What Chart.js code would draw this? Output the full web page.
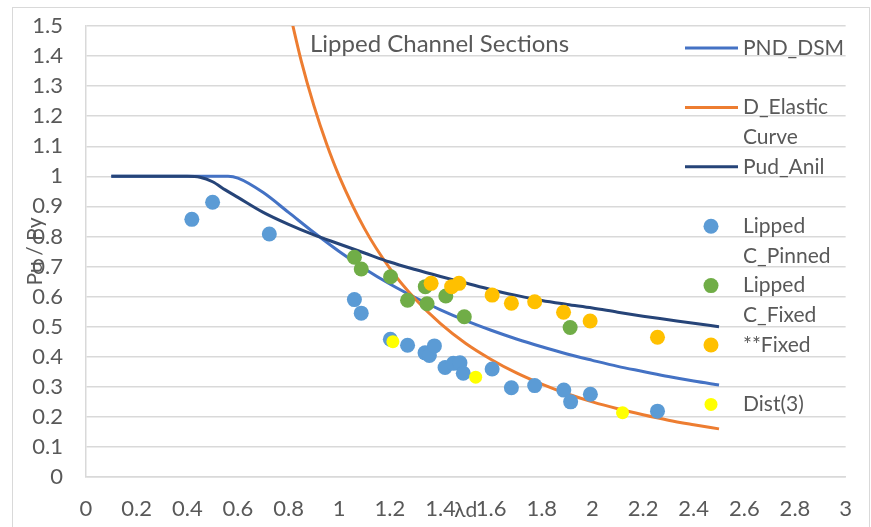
<!DOCTYPE html>
<html>
<head>
<meta charset="utf-8">
<script src="https://cdn.jsdelivr.net/npm/chart.js@4"></script>
<style>
  html, body { margin: 0; padding: 0; background: #fff; }
</style>
</head>
<body>
<canvas id="chart" width="871" height="527"></canvas>
<script>
// axis ticks
const xTicks = [0, 0.2, 0.4, 0.6, 0.8, 1, 1.2, 1.4, 1.6, 1.8, 2, 2.2, 2.4, 2.6, 2.8, 3];
const yTicks = [0, 0.1, 0.2, 0.3, 0.4, 0.5, 0.6, 0.7, 0.8, 0.9, 1, 1.1, 1.2, 1.3, 1.4, 1.5];

// curves
const pndX = [0.1, 0.2, 0.3, 0.4, 0.5, 0.561, 0.6, 0.7, 0.8, 0.9, 1.0, 1.1, 1.2, 1.3, 1.4, 1.5, 1.6, 1.7, 1.8, 1.9, 2.0, 2.1, 2.2, 2.3, 2.4, 2.5];
const pndY = [1, 1, 1, 1, 1, 1, 0.994, 0.946, 0.880, 0.813, 0.750, 0.693, 0.642, 0.597, 0.556, 0.520, 0.488, 0.459, 0.433, 0.409, 0.388, 0.368, 0.351, 0.334, 0.319, 0.306];

const elasticX = [0.8, 0.85, 0.9, 0.95, 1.0, 1.1, 1.2, 1.3, 1.4, 1.5, 1.6, 1.7, 1.8, 1.9, 2.0, 2.1, 2.2, 2.3, 2.4, 2.5];
const elasticY = [1.5625, 1.384, 1.235, 1.108, 1.0, 0.826, 0.694, 0.592, 0.510, 0.444, 0.391, 0.346, 0.309, 0.277, 0.250, 0.227, 0.207, 0.189, 0.174, 0.160];

const anilX = [0.1, 0.2, 0.3, 0.4, 0.45, 0.5, 0.55, 0.6, 0.7, 0.8, 0.9, 1.0, 1.1, 1.2, 1.3, 1.4, 1.5, 1.6, 1.7, 1.8, 1.9, 2.0, 2.1, 2.2, 2.3, 2.4, 2.5];
const anilY = [1, 1, 1, 1, 0.997, 0.982, 0.955, 0.93, 0.88, 0.84, 0.805, 0.775, 0.745, 0.715, 0.69, 0.667, 0.645, 0.623, 0.604, 0.587, 0.574, 0.562, 0.548, 0.535, 0.523, 0.511, 0.5];

// test points
const pinnedX = [0.418, 0.500, 0.724, 1.060, 1.087, 1.202, 1.270, 1.339, 1.356, 1.376, 1.418, 1.451, 1.477, 1.490, 1.604, 1.680, 1.772, 1.887, 1.914, 1.992, 2.257];
const pinnedY = [0.857, 0.914, 0.808, 0.590, 0.545, 0.458, 0.438, 0.413, 0.404, 0.436, 0.364, 0.378, 0.380, 0.345, 0.359, 0.297, 0.304, 0.289, 0.250, 0.275, 0.219];

const fixedX = [1.060, 1.087, 1.203, 1.270, 1.340, 1.347, 1.421, 1.494, 1.912];
const fixedY = [0.731, 0.692, 0.666, 0.588, 0.633, 0.576, 0.602, 0.533, 0.497];

const starFixedX = [1.363, 1.444, 1.473, 1.604, 1.680, 1.772, 1.886, 1.991, 2.257];
const starFixedY = [0.644, 0.633, 0.644, 0.605, 0.578, 0.583, 0.548, 0.519, 0.465];

const distX = [1.212, 1.539, 2.119];
const distY = [0.450, 0.332, 0.214];

const pts = (xs, ys) => xs.map((x, i) => ({ x: x, y: ys[i] }));

const FONT = 'Lato';
const TXT = '#595959';

function lineSet(label, xs, ys, color, order) {
    return {
        label: label, data: pts(xs, ys), showLine: true,
        borderColor: color, backgroundColor: color, borderWidth: 3,
        pointRadius: 0, pointHoverRadius: 0,
        tension: 0.4, cubicInterpolationMode: 'monotone', order: order
    };
}
function dotSet(label, xs, ys, color, r, order) {
    return {
        label: label, data: pts(xs, ys), showLine: false,
        backgroundColor: color, borderColor: color, borderWidth: 0,
        pointRadius: r, pointHoverRadius: r, order: order
    };
}

// legend, titles, frame
const decor = {
    id: 'decor',
    beforeDraw(chart) {
        const ctx = chart.ctx;
        ctx.save();
        ctx.strokeStyle = '#D9D9D9';
        ctx.lineWidth = 1;
        ctx.strokeRect(12.5, 7.5, 857, 540);
        ctx.restore();
    },
    afterDraw(chart) {
        const ctx = chart.ctx;
        const area = chart.chartArea;
        ctx.save();
        ctx.fillStyle = TXT;
        ctx.textBaseline = 'middle';

        // chart title (text box inside plot)
        ctx.font = '24px ' + FONT;
        ctx.textAlign = 'left';
        ctx.fillText('Lipped Channel Sections', 310, 44);

        // axis titles
        ctx.font = '21px ' + FONT;
        ctx.textAlign = 'center';
        ctx.fillText('\u03BBd', (area.left + area.right) / 2, 510);
        ctx.save();
        ctx.translate(35, (area.top + area.bottom) / 2);
        ctx.rotate(-Math.PI / 2);
        ctx.fillText('Pu / Py', 0, 0);
        ctx.restore();

        // legend
        ctx.textAlign = 'left';
        const rowH = 29.7;
        let y = 48;
        chart.data.datasets.forEach(ds => {
            if (ds.showLine) {
                ctx.strokeStyle = ds.borderColor;
                ctx.lineWidth = 3;
                ctx.beginPath();
                ctx.moveTo(685, y);
                ctx.lineTo(738, y);
                ctx.stroke();
            } else {
                ctx.fillStyle = ds.backgroundColor;
                ctx.beginPath();
                ctx.arc(711, y, ds.pointRadius, 0, Math.PI * 2);
                ctx.fill();
            }
            ctx.fillStyle = TXT;
            // wrap long labels onto a second line
            const words = ds.label.split(' ');
            const lines = [];
            let cur = '';
            words.forEach(w => {
                const t = cur ? cur + ' ' + w : w;
                if (cur && ctx.measureText(t).width > 112) { lines.push(cur); cur = w; }
                else cur = t;
            });
            lines.push(cur);
            lines.forEach((l, i) => ctx.fillText(l, 743, y + i * rowH));
            y += rowH * 2;
        });
        ctx.restore();
    }
};

new Chart(document.getElementById('chart').getContext('2d'), {
    type: 'scatter',
    data: {
        datasets: [
            lineSet('PND_DSM', pndX, pndY, '#4472C4', 6),
            lineSet('D_Elastic Curve', elasticX, elasticY, '#ED7D31', 5),
            lineSet('Pud_Anil', anilX, anilY, '#264478', 4),
            dotSet('Lipped C_Pinned', pinnedX, pinnedY, '#5B9BD5', 7.5, 3),
            dotSet('Lipped C_Fixed', fixedX, fixedY, '#70AD47', 7.5, 2),
            dotSet('**Fixed', starFixedX, starFixedY, '#FFC000', 7.5, 1),
            dotSet('Dist(3)', distX, distY, '#FFFF00', 6.5, 0)
        ]
    },
    options: {
        responsive: false,
        animation: false,
        layout: { padding: { top: 26, right: 22, left: 0, bottom: 0 } },
        plugins: {
            legend: { display: false },
            tooltip: { enabled: false }
        },
        scales: {
            x: {
                type: 'linear', min: 0, max: 3,
                afterBuildTicks: axis => { axis.ticks = xTicks.map(v => ({ value: v })); },
                afterFit: scale => { scale.height = 50; },
                grid: { display: false, drawTicks: false },
                border: { display: true, color: '#D9D9D9', width: 1.5 },
                ticks: {
                    color: TXT, padding: 19, maxRotation: 0, autoSkip: false,
                    font: { family: FONT, size: 22 },
                    callback: v => String(Math.round(v * 10) / 10)
                }
            },
            y: {
                type: 'linear', min: 0, max: 1.5,
                afterBuildTicks: axis => { axis.ticks = yTicks.map(v => ({ value: v })); },
                afterFit: scale => { scale.width = 86; scale.paddingTop = 10; scale.paddingBottom = 10; },
                grid: { color: '#D9D9D9', lineWidth: 1.5, drawTicks: false },
                border: { display: true, color: '#D9D9D9', width: 1.5 },
                ticks: {
                    color: TXT, padding: 23, autoSkip: false,
                    font: { family: FONT, size: 22 },
                    callback: v => String(Math.round(v * 10) / 10)
                }
            }
        }
    },
    plugins: [decor]
});
</script>
</body>
</html>
